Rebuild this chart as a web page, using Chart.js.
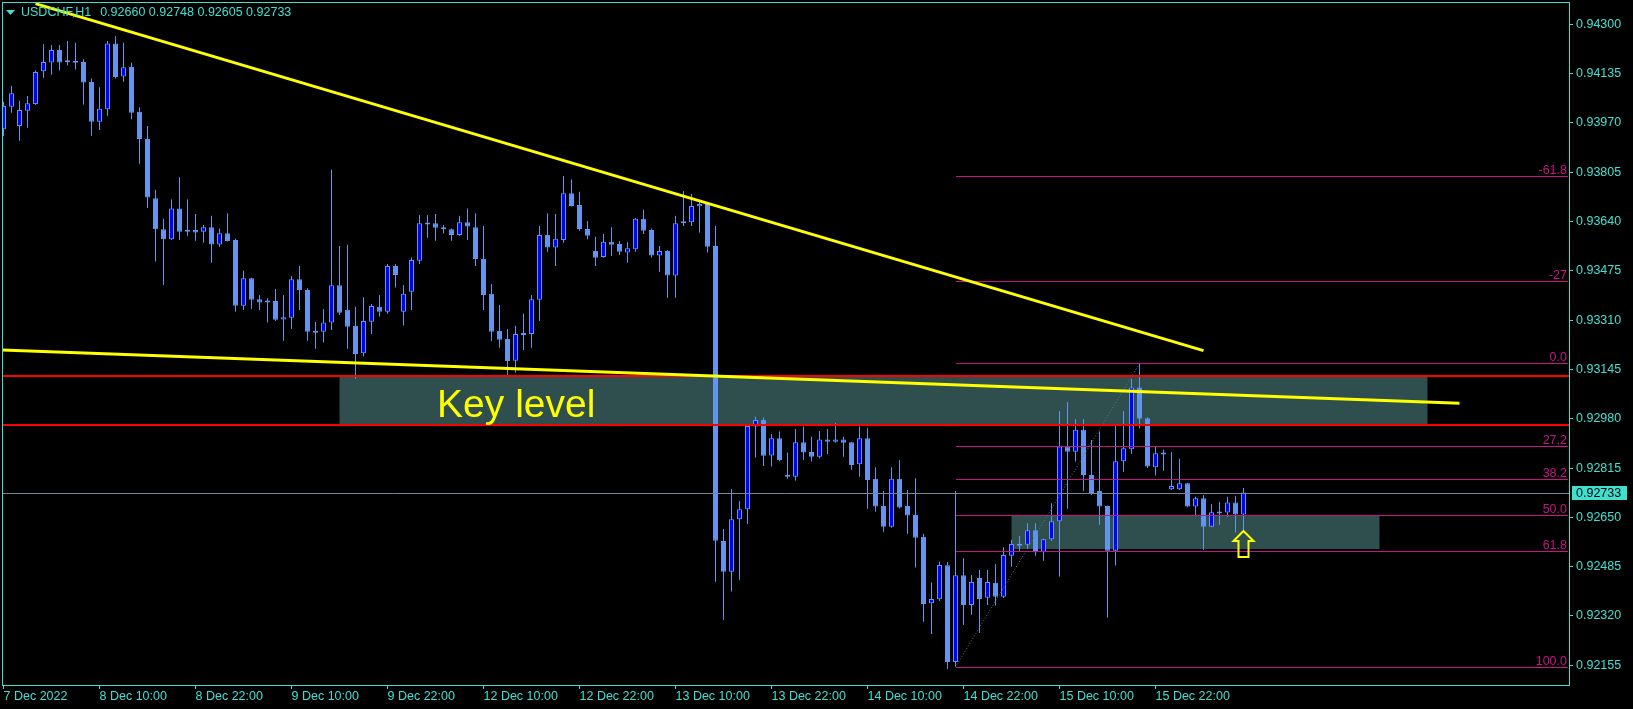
<!DOCTYPE html>
<html><head><meta charset="utf-8">
<script src="https://cdn.jsdelivr.net/npm/chart.js@4.4.0/dist/chart.umd.min.js"></script>
<style>html,body{margin:0;padding:0;background:#000;overflow:hidden}canvas{display:block}</style>
</head><body>
<canvas id="c" width="1633" height="709"></canvas>
<script>
const symbolTitle = 'USDCHF,H1';
const opens = [0.93949,0.94024,0.93960,0.94011,0.94033,0.94143,0.94172,0.94214,0.94174,0.94172,
0.94174,0.94107,0.93974,0.94016,0.94236,0.94125,0.94157,0.94007,0.93916,0.93718,
0.93614,0.93581,0.93684,0.93612,0.93612,0.93606,0.93621,0.93563,0.93601,0.93578,
0.93358,0.93450,0.93380,0.93374,0.93374,0.93312,0.93318,0.93447,0.93411,0.93271,
0.93271,0.93302,0.93427,0.93345,0.93291,0.93199,0.93305,0.93355,0.93338,0.93491,
0.93338,0.93405,0.93509,0.93635,0.93634,0.93621,0.93614,0.93595,0.93638,0.93621,
0.93515,0.93398,0.93274,0.93247,0.93174,0.93264,0.93264,0.93378,0.93595,0.93553,
0.93578,0.93735,0.93695,0.93615,0.93541,0.93521,0.93572,0.93565,0.93536,0.93547,
0.93649,0.93612,0.93526,0.93541,0.93459,0.93640,0.93638,0.93691,0.93699,0.93558,
0.92571,0.92468,0.92644,0.92677,0.92954,0.92976,0.92857,0.92915,0.92792,0.92786,
0.92901,0.92869,0.92853,0.92911,0.92903,0.92911,0.92901,0.92828,0.92915,0.92779,
0.92688,0.92619,0.92779,0.92688,0.92658,0.92585,0.92363,0.92376,0.92490,0.92166,
0.92456,0.92357,0.92447,0.92381,0.92431,0.92384,0.92522,0.92561,0.92558,0.92607,
0.92533,0.92577,0.92637,0.92887,0.92870,0.92943,0.92792,0.92738,0.92688,0.92538,
0.92838,0.92878,0.93085,0.92982,0.92818,0.92865,0.92744,0.92744,0.92764,0.92686,
0.92714,0.92619,0.92668,0.92666,0.92700,0.92660];
const highs = [0.94041,0.94094,0.94044,0.94060,0.94145,0.94234,0.94231,0.94231,0.94244,0.94238,
0.94183,0.94119,0.94089,0.94244,0.94261,0.94238,0.94171,0.94022,0.93960,0.93746,
0.93649,0.93714,0.93788,0.93714,0.93665,0.93628,0.93659,0.93617,0.93668,0.93582,
0.93475,0.93452,0.93394,0.93383,0.93414,0.93394,0.93458,0.93491,0.93417,0.93304,
0.93347,0.93813,0.93558,0.93562,0.93355,0.93387,0.93364,0.93394,0.93498,0.93498,
0.93428,0.93520,0.93662,0.93662,0.93665,0.93628,0.93617,0.93659,0.93684,0.93668,
0.93625,0.93431,0.93361,0.93280,0.93291,0.93331,0.93394,0.93625,0.93668,0.93665,
0.93792,0.93781,0.93740,0.93642,0.93589,0.93598,0.93621,0.93575,0.93571,0.93652,
0.93679,0.93617,0.93558,0.93545,0.93659,0.93742,0.93732,0.93706,0.93703,0.93625,
0.92611,0.92745,0.92705,0.92959,0.92987,0.92984,0.92929,0.92937,0.92867,0.92946,
0.92954,0.92920,0.92939,0.92946,0.92967,0.92920,0.92903,0.92954,0.92948,0.92818,
0.92738,0.92818,0.92842,0.92742,0.92781,0.92595,0.92432,0.92502,0.92501,0.92738,
0.92513,0.92457,0.92474,0.92474,0.92494,0.92550,0.92575,0.92588,0.92630,0.92630,
0.92579,0.92697,0.93006,0.93036,0.92979,0.92979,0.92909,0.92937,0.92690,0.92962,
0.93006,0.93114,0.93165,0.92985,0.92887,0.92876,0.92869,0.92846,0.92766,0.92719,
0.92725,0.92694,0.92702,0.92719,0.92722,0.92748];
const lows = [0.93926,0.94004,0.93910,0.93954,0.94030,0.94121,0.94131,0.94145,0.94163,0.94149,
0.94032,0.93927,0.93946,0.93994,0.94119,0.94108,0.93982,0.93833,0.93685,0.93506,
0.93428,0.93578,0.93578,0.93592,0.93576,0.93569,0.93502,0.93556,0.93573,0.93338,
0.93344,0.93347,0.93344,0.93302,0.93307,0.93241,0.93280,0.93344,0.93241,0.93214,
0.93235,0.93277,0.93327,0.93214,0.93114,0.93188,0.93264,0.93322,0.93331,0.93419,
0.93292,0.93344,0.93498,0.93586,0.93576,0.93601,0.93576,0.93592,0.93578,0.93491,
0.93344,0.93240,0.93218,0.93127,0.93134,0.93210,0.93218,0.93307,0.93539,0.93491,
0.93569,0.93690,0.93609,0.93581,0.93491,0.93519,0.93525,0.93528,0.93502,0.93539,
0.93598,0.93520,0.93472,0.93385,0.93385,0.93625,0.93625,0.93603,0.93536,0.92435,
0.92307,0.92402,0.92441,0.92628,0.92850,0.92822,0.92820,0.92838,0.92779,0.92773,
0.92842,0.92837,0.92848,0.92862,0.92900,0.92853,0.92809,0.92786,0.92679,0.92669,
0.92602,0.92615,0.92680,0.92595,0.92482,0.92301,0.92260,0.92370,0.92143,0.92150,
0.92290,0.92324,0.92263,0.92357,0.92355,0.92380,0.92485,0.92535,0.92544,0.92522,
0.92505,0.92571,0.92452,0.92679,0.92837,0.92738,0.92725,0.92625,0.92315,0.92489,
0.92803,0.92863,0.92947,0.92815,0.92790,0.92806,0.92742,0.92742,0.92684,0.92654,
0.92541,0.92617,0.92625,0.92652,0.92599,0.92605];
const closes = [0.94027,0.94069,0.94013,0.94036,0.94140,0.94174,0.94214,0.94172,0.94173,0.94171,
0.94105,0.93974,0.94017,0.94236,0.94124,0.94156,0.94004,0.93916,0.93720,0.93614,
0.93581,0.93684,0.93606,0.93606,0.93603,0.93621,0.93563,0.93601,0.93575,0.93358,
0.93450,0.93378,0.93369,0.93369,0.93311,0.93320,0.93447,0.93411,0.93271,0.93268,
0.93302,0.93427,0.93335,0.93288,0.93197,0.93307,0.93357,0.93338,0.93491,0.93461,
0.93398,0.93511,0.93634,0.93630,0.93619,0.93614,0.93595,0.93638,0.93623,0.93515,
0.93394,0.93271,0.93244,0.93173,0.93264,0.93260,0.93380,0.93595,0.93553,0.93582,
0.93735,0.93692,0.93615,0.93592,0.93519,0.93572,0.93562,0.93539,0.93551,0.93649,
0.93609,0.93526,0.93541,0.93459,0.93634,0.93634,0.93692,0.93699,0.93556,0.92572,
0.92468,0.92644,0.92677,0.92956,0.92976,0.92856,0.92915,0.92842,0.92786,0.92901,
0.92867,0.92853,0.92911,0.92903,0.92911,0.92900,0.92825,0.92915,0.92775,0.92686,
0.92619,0.92779,0.92683,0.92656,0.92582,0.92360,0.92377,0.92491,0.92166,0.92456,
0.92357,0.92434,0.92377,0.92434,0.92384,0.92524,0.92561,0.92555,0.92607,0.92533,
0.92577,0.92637,0.92887,0.92870,0.92943,0.92792,0.92732,0.92686,0.92538,0.92838,
0.92881,0.93085,0.92980,0.92820,0.92865,0.92860,0.92755,0.92764,0.92686,0.92714,
0.92619,0.92667,0.92663,0.92700,0.92660,0.92733];

const xTickIndex = [0,12,24,36,48,60,72,84,96,108,120,132,144];
const xTickLabels = ['7 Dec 2022','8 Dec 10:00','8 Dec 22:00','9 Dec 10:00','9 Dec 22:00','12 Dec 10:00','12 Dec 22:00','13 Dec 10:00','13 Dec 22:00','14 Dec 10:00','14 Dec 22:00','15 Dec 10:00','15 Dec 22:00'];
const yTicks = [0.92155,0.92320,0.92485,0.92650,0.92815,0.92980,0.93145,0.93310,0.93475,0.93640,0.93805,0.93970,0.94135,0.94300];

// drawn objects: [bar, price] anchors
const upperTrend = [[4, 0.94369], [150, 0.93208]];
const lowerTrend = [[-1, 0.93211], [182, 0.93032]];
const redLevels = [0.93122, 0.92960];
const keyZone = [42, 178, 0.93122, 0.92960];
const supportZone = [126, 172, 0.92656, 0.92543];
const keyLabel = {text: 'Key level', bar: 54.2, price: 0.92985};
const fibAnchors = [[119, 0.92149], [142, 0.93165]];
const fibLevels = [-61.8, -27, 0, 27.2, 38.2, 50, 61.8, 100];
const fibLabels = ['-61.8', '-27', '0.0', '27,2', '38.2', '50.0', '61.8', '100.0'];
const arrowBar = 155;

const TURQ = '#40E0D0';
const FONT = '"Liberation Sans", Arial, sans-serif';
const last = closes.length - 1;
const lastPrice = closes[last];

const idx = opens.map((_, i) => i);
const wickData = idx.map(i => ({x: i, y: [lows[i], highs[i]]}));
const bodyData = idx.map(i => ({x: i, y: [opens[i], closes[i]]}));
const bodyColors = idx.map(i => closes[i] >= opens[i] ? '#0000FF' : '#6495ED');

const overlay = {
  id: 'overlay',
  beforeDatasetsDraw(chart) {
    const {ctx, chartArea: a, scales: {x, y}} = chart;
    ctx.save();
    ctx.beginPath(); ctx.rect(a.left, a.top, a.right - a.left, a.bottom - a.top); ctx.clip();
    ctx.fillStyle = '#2F4F4F';
    [keyZone, supportZone].forEach(z => {
      const x0 = x.getPixelForValue(z[0]), x1 = x.getPixelForValue(z[1]);
      const y0 = y.getPixelForValue(z[2]), y1 = y.getPixelForValue(z[3]);
      ctx.fillRect(x0, Math.round(y0), x1 - x0, Math.round(y1) - Math.round(y0));
    });
    ctx.restore();
  },
  afterDatasetsDraw(chart) {
    const {ctx, chartArea: a, scales: {x, y}} = chart;
    const X = v => x.getPixelForValue(v), Y = v => y.getPixelForValue(v);
    ctx.save();
    ctx.beginPath(); ctx.rect(a.left, a.top, a.right - a.left, a.bottom - a.top); ctx.clip();
    // last price line
    ctx.strokeStyle = '#778899'; ctx.lineWidth = 1;
    let py = Math.round(Y(lastPrice)) + 0.5;
    ctx.beginPath(); ctx.moveTo(a.left, py); ctx.lineTo(a.right, py); ctx.stroke();
    // fibonacci
    const f0 = fibAnchors[0], f1 = fibAnchors[1];
    const range = f1[1] - f0[1];
    ctx.font = '12.5px ' + FONT; ctx.textAlign = 'right'; ctx.textBaseline = 'alphabetic';
    fibLevels.forEach((lv, k) => {
      const p = f1[1] - lv / 100 * range;
      const yy = Math.round(Y(p)) + 0.5;
      ctx.strokeStyle = '#C71585';
      ctx.beginPath(); ctx.moveTo(Math.round(X(f0[0])), yy); ctx.lineTo(a.right - 1, yy); ctx.stroke();
      ctx.fillStyle = '#C71585';
      ctx.fillText(fibLabels[k], a.right - 2, yy - 2.5);
    });
    ctx.setLineDash([1, 2]); ctx.strokeStyle = '#5a7a7a';
    ctx.beginPath(); ctx.moveTo(X(f0[0]), Y(f0[1])); ctx.lineTo(X(f1[0]), Y(f1[1])); ctx.stroke();
    ctx.setLineDash([]);
    // red levels
    ctx.strokeStyle = '#FF0000'; ctx.lineWidth = 2;
    redLevels.forEach(p => { const yy = Math.round(Y(p)); ctx.beginPath(); ctx.moveTo(a.left, yy); ctx.lineTo(a.right, yy); ctx.stroke(); });
    // trendlines
    ctx.strokeStyle = '#FFFF00'; ctx.lineWidth = 3;
    [upperTrend, lowerTrend].forEach(t => { ctx.beginPath(); ctx.moveTo(X(t[0][0]), Y(t[0][1])); ctx.lineTo(X(t[1][0]), Y(t[1][1])); ctx.stroke(); });
    // key level text
    ctx.fillStyle = '#FFFF00'; ctx.font = '39px ' + FONT; ctx.textAlign = 'left'; ctx.textBaseline = 'alphabetic';
    ctx.fillText(keyLabel.text, X(keyLabel.bar), Y(keyLabel.price));
    // arrow
    const ax = X(arrowBar), ay = Math.round(Y(lows[arrowBar]));
    ctx.strokeStyle = '#FFFF00'; ctx.lineWidth = 2; ctx.lineJoin = 'miter';
    ctx.beginPath();
    ctx.moveTo(ax, ay); ctx.lineTo(ax + 10, ay + 10); ctx.lineTo(ax + 5, ay + 10); ctx.lineTo(ax + 5, ay + 26);
    ctx.lineTo(ax - 5, ay + 26); ctx.lineTo(ax - 5, ay + 10); ctx.lineTo(ax - 10, ay + 10); ctx.closePath(); ctx.stroke();
    ctx.restore();
  },
  afterDraw(chart) {
    const {ctx, chartArea: a, scales: {y}} = chart;
    ctx.save();
    // price box
    const yy = Math.round(y.getPixelForValue(lastPrice));
    ctx.fillStyle = TURQ; ctx.fillRect(a.right + 3, yy - 7, 55, 14);
    ctx.fillStyle = '#000'; ctx.font = '12.5px ' + FONT; ctx.textAlign = 'left'; ctx.textBaseline = 'middle';
    ctx.fillText(lastPrice.toFixed(5), a.right + 7, yy + 0.5);
    // title
    ctx.fillStyle = TURQ;
    ctx.beginPath(); ctx.moveTo(6, 10); ctx.lineTo(15, 10); ctx.lineTo(10.5, 15); ctx.closePath(); ctx.fill();
    ctx.fillText(symbolTitle, 21, 13);
    const tw = ctx.measureText(symbolTitle).width;
    ctx.fillText([opens[last], highs[last], lows[last], closes[last]].map(v => v.toFixed(5)).join(' '), 21 + tw + 9, 13);
    // frame
    ctx.strokeStyle = TURQ; ctx.lineWidth = 1;
    ctx.strokeRect(a.left + 0.5, a.top + 0.5, a.right - a.left, a.bottom - a.top);
    ctx.restore();
  }
};

new Chart(document.getElementById('c'), {
  type: 'bar',
  data: {
    datasets: [
      {data: wickData, backgroundColor: '#6495ED', borderWidth: 0, barThickness: 1, grouped: false, order: 2, inflateAmount: 0},
      {data: bodyData, backgroundColor: bodyColors, borderColor: '#6495ED', borderWidth: 1, borderSkipped: false,
       barThickness: 5, grouped: false, order: 1, minBarLength: 2, inflateAmount: 0}
    ]
  },
  options: {
    responsive: false, animation: false, devicePixelRatio: 1, events: [],
    layout: {padding: {left: 2, top: 2, right: 0, bottom: 0}},
    plugins: {legend: {display: false}, tooltip: {enabled: false}},
    scales: {
      x: {
        type: 'linear', min: -0.1875, max: 195.6875, offset: false,
        afterBuildTicks: s => { s.ticks = xTickIndex.map(v => ({value: v})); },
        afterFit: s => { s.height = 24; s.paddingLeft = 0; s.paddingRight = 0; },
        grid: {display: true, offset: false, drawOnChartArea: false, drawTicks: true, tickLength: 4, color: TURQ},
        border: {display: false},
        ticks: {autoSkip: false, maxRotation: 0, minRotation: 0, align: 'start', padding: 0, color: TURQ,
          font: {family: FONT, size: 12.5}, callback: v => xTickLabels[xTickIndex.indexOf(v)]}
      },
      y: {
        type: 'linear', position: 'right', min: 0.920891, max: 0.943746,
        afterBuildTicks: s => { s.ticks = yTicks.map(v => ({value: v})); },
        afterFit: s => { s.width = 64; s.paddingTop = 0; s.paddingBottom = 0; },
        grid: {display: true, drawOnChartArea: false, drawTicks: true, tickLength: 4, color: TURQ},
        border: {display: false},
        ticks: {autoSkip: false, padding: 3, color: TURQ, font: {family: FONT, size: 12.5}, callback: v => v.toFixed(5)}
      }
    }
  },
  plugins: [overlay]
});
</script>
</body></html>
